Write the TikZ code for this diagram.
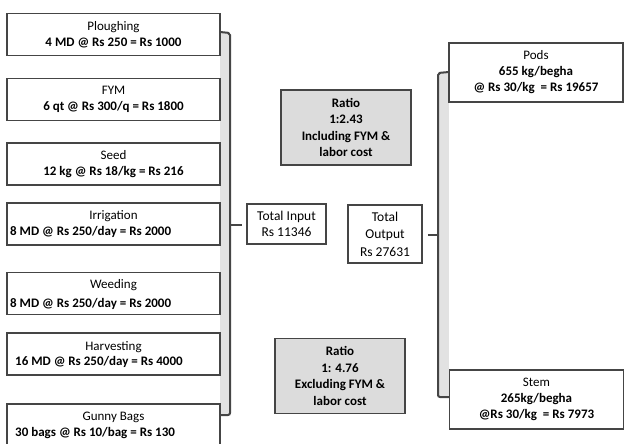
\documentclass[tikz,border=0pt]{standalone}
\usepackage{fontspec}
\setmainfont{Carlito}
\definecolor{edge}{HTML}{454545}
\definecolor{ratiofill}{HTML}{DCDCDC}
\definecolor{barfill}{HTML}{E2E2E2}
\begin{document}
\begin{tikzpicture}[x=1pt,y=-1pt,
  box/.style={draw=edge, line width=1.8pt, fill=white, inner sep=2pt,
    font=\fontsize{13}{16}\selectfont, align=center},
  inbox/.style={box, minimum width=213pt, minimum height=42pt},
  outbox/.style={box, minimum width=174pt, minimum height=59pt},
  ratiobox/.style={box, fill=ratiofill, minimum width=130pt, minimum height=75pt, font=\fontsize{13}{16.5}\selectfont\bfseries},
  txt/.style={font=\fontsize{13}{16}\selectfont, inner sep=0pt},
  link/.style={draw=edge, line width=2pt}]
\useasboundingbox (0,0) rectangle (627,444);

% left bracket
\fill[barfill] (220,32) rectangle (230,415);
\draw[edge, line width=2pt, rounded corners=2pt] (220,32) -- (230,33) -- (230,415) -- (220,415);
% right bracket
\fill[barfill] (438,72) rectangle (449,397);
\draw[edge, line width=2pt, rounded corners=2pt] (449,72) -- (438,73) -- (438,397) -- (449,397);

% input boxes
\node[inbox] (plough) at (113.5,34.5) {Ploughing\\\textbf{4 MD @ Rs 250 = Rs 1000}};
\node[inbox] (fym) at (113.5,99.5) {FYM\\\textbf{6 qt @ Rs 300/q = Rs 1800}};
\node[inbox] (seed) at (113.5,164) {Seed\\\textbf{12 kg @ Rs 18/kg = Rs 216}};
\node[inbox] (irr) at (113.5,224) {};
\node[txt] at (113.5,216) {Irrigation};
\node[txt, anchor=west] at (10,232) {\textbf{8 MD @ Rs 250/day = Rs 2000}};
\node[inbox] (weed) at (113.5,293.5) {};
\node[txt] at (113.5,285) {Weeding};
\node[txt, anchor=west] at (10,304) {\textbf{8 MD @ Rs 250/day = Rs 2000}};
\node[inbox] (harv) at (113.5,354) {};
\node[txt] at (113.5,347) {Harvesting};
\node[txt, anchor=west] at (15,362) {\textbf{16 MD @ Rs 250/day = Rs 4000}};
\node[inbox] (gunny) at (113.5,425) {};
\node[txt] at (113.5,417) {Gunny Bags};
\node[txt, anchor=west] at (15,433) {\textbf{30 bags @ Rs 10/bag = Rs 130}};

% totals
\node[box, minimum width=79pt, minimum height=40pt, font=\fontsize{13.5}{16}\selectfont] (tin) at (286.5,224) {Total Input\\Rs 11346};
\node[box, minimum width=74pt, minimum height=58pt, font=\fontsize{13.5}{17.5}\selectfont] (tout) at (385,234) {Total\\Output\\Rs 27631};

% ratios
\node[ratiobox] (r1) at (346,127.5) {Ratio\\1:2.43\\Including FYM \&\\labor cost};
\node[ratiobox] (r2) at (340,376) {Ratio\\1: 4.76\\Excluding FYM \&\\labor cost};

% outputs
\node[outbox] (pods) at (536,72.5) {Pods\\\textbf{655 kg/begha}\\\textbf{@ Rs 30/kg~~= Rs 19657}};
\node[outbox] (stem) at (536.5,399.5) {Stem\\\textbf{265kg/begha}\\\textbf{@Rs 30/kg~~= Rs 7973}};

% connectors
\coordinate (lb) at (230,225);
\coordinate (rb) at (438,235);
\draw[link] (lb) -- ([xshift=-4pt]tin.west |- lb);
\draw[link] ([xshift=5pt]tout.east |- rb) -- (rb);
\end{tikzpicture}
\end{document}
